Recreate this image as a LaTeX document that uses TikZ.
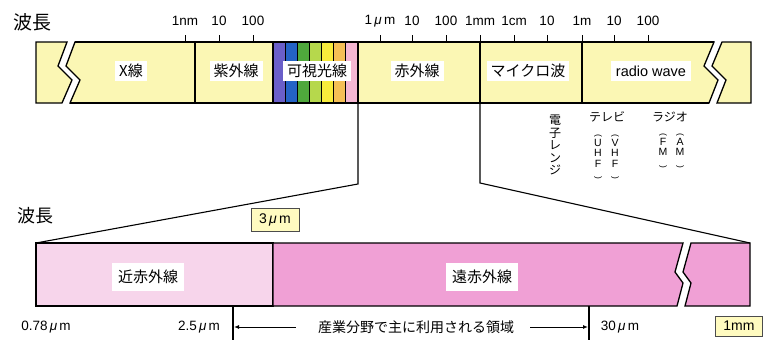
\documentclass[tikz,border=0pt]{standalone}
\usepackage{fontspec}
\setmainfont{Liberation Sans}
\newfontfamily\jp{Noto Sans CJK JP}
\usetikzlibrary{arrows.meta}
\definecolor{barY}{HTML}{FBF7B4}
\definecolor{bV}{HTML}{6A5FC9}
\definecolor{bB}{HTML}{2463C6}
\definecolor{bG}{HTML}{4FA83C}
\definecolor{bLG}{HTML}{B6D84C}
\definecolor{bY}{HTML}{F7EC3C}
\definecolor{bO}{HTML}{F5BF55}
\definecolor{bP}{HTML}{F5B7D2}
\definecolor{nearIR}{HTML}{F7D5EB}
\definecolor{farIR}{HTML}{F0A0D5}
\definecolor{boxY}{HTML}{FFFBC0}
\newcommand{\mum}{{\itshape μ}\,m}
\newcommand{\vpl}{\raisebox{1pt}{\rotatebox{-90}{\scalebox{0.8}{(}}}}
\newcommand{\vpr}{\raisebox{1pt}{\rotatebox{-90}{\scalebox{0.8}{)}}}}
\begin{document}
\begin{tikzpicture}[x=1pt,y=-1pt,
  bar/.style={draw=black,line width=1.3pt,line join=miter},
  divider/.style={draw=black,line width=1.1pt},
  band/.style={draw=black,line width=0.8pt},
  lbl/.style={fill=white,inner xsep=4pt,inner ysep=3.5pt,font=\jp\fontsize{15}{17}\selectfont},
  lbllat/.style={fill=white,inner xsep=5pt,inner ysep=5pt,font=\fontsize{14.5}{16}\selectfont},
  ticklbl/.style={inner sep=0pt,font=\fontsize{13.5}{15}\selectfont},
  tickmark/.style={line width=0.9pt},
  title/.style={inner sep=0pt,font=\jp\fontsize{19}{21}\selectfont},
  vlab/.style={inner sep=0pt,align=center,font=\jp\fontsize{12}{12.5}\selectfont},
  vpar/.style={inner sep=0pt,align=center,font=\fontsize{10.5}{10.5}\selectfont},
  wl/.style={inner sep=0pt,font=\fontsize{13.5}{15}\selectfont},
  ybox/.style={draw=black!70,line width=0.6pt,fill=boxY,inner xsep=8pt,inner ysep=5pt,font=\fontsize{14}{16}\selectfont},
  conn/.style={draw=black,line width=1.1pt},
  arr/.style={draw=black,line width=1pt,-{Latex[length=5pt,width=4pt]}}
]
\useasboundingbox (0,0) rectangle (768,340);

% ---------- top bar ----------
\path[bar,fill=barY] (36,42) -- (67,42) -- (58,66) -- (72,80) -- (62,103) -- (36,103) -- cycle;
\path[bar,fill=barY] (75,42) -- (714,42) -- (704,66) -- (718,80) -- (709,103) -- (70,103) -- (80,80) -- (66,66) -- cycle;
\path[bar,fill=barY] (722,42) -- (751,42) -- (751,103) -- (717,103) -- (726,80) -- (712,66) -- cycle;

% visible bands
\foreach \xa/\xb/\c in {273/285/bV,285/297/bB,297/309/bG,309/321/bLG,321/333/bY,333/345/bO,345/358/bP}
  \path[band,fill=\c] (\xa,42) rectangle (\xb,103);
\path[bar] (75,42) -- (714,42);
\path[bar] (70,103) -- (709,103);

% dividers
\foreach \x in {195,273,358,480,582}
  \draw[divider] (\x,42) -- (\x,103);

% ticks and labels
\foreach \x/\t in {185/1nm,219/10,253/100,380/1\,\mum,412/10,446/100,480/1mm,514/1cm,547/10,582/1m,614/10,648/100}{
  \draw[tickmark] (\x,35) -- (\x,42);
  \node[ticklbl] (tk\x) at (\x,21) {\t};
}

\node[title] (wl1) at (32,22) {波長};

% band labels
\node[lbl] (xray) at (131,71) {X線};
\node[lbl] (uv) at (236,71) {紫外線};
\node[lbl] (vis) at (317,71) {可視光線};
\node[lbl] (ir) at (417,71) {赤外線};
\node[lbl] (mw) at (528,71) {マイクロ波};
\node[lbllat] (rw) at (651,71) {radio wave};

% applications
\node[vlab] (denshi) at (555,145) {電\\子\\レ\\ン\\ジ};
\node[vlab] (tv) at (607,117) {テレビ};
\node[vlab] (radio) at (670,117) {ラジオ};
\node[vpar] (uhf) at (598,157) {\vpl\\U\\H\\F\\\vpr};
\node[vpar] (vhf) at (615,157) {\vpl\\V\\H\\F\\\vpr};
\node[vpar] (fm) at (663,151) {\vpl\\F\\M\\\vpr};
\node[vpar] (am) at (680,151) {\vpl\\A\\M\\\vpr};

% ---------- bottom bar ----------
\path[bar,fill=nearIR] (36,243) rectangle (273,306);
\path[bar,fill=farIR] (273,243) -- (683,243) -- (675,272) -- (683,283) -- (677,306) -- (273,306) -- cycle;
\path[bar,fill=farIR] (691,243) -- (750,243) -- (750,306) -- (685,306) -- (691,283) -- (683,272) -- cycle;

\node[lbl,inner ysep=7pt,inner xsep=6pt] (nir) at (148,277) {近赤外線};
\node[lbl,inner ysep=7pt,inner xsep=6pt] (fir) at (482,277) {遠赤外線};

\node[title,font=\jp\fontsize{18}{20}\selectfont] (wl2) at (35,216) {波長};
\node[ybox] (b3um) at (275,220) {3\,\mum};
\node[ybox] (b1mm) at (739,326) {1mm};

% ---------- connectors ----------
\coordinate (ta) at (358,103);
\coordinate (tb) at (480,103);
\coordinate (ka) at (358,184);
\coordinate (kb) at (480,183);
\coordinate (ba) at (36,243);
\coordinate (bb) at (750,243);
\draw[conn] (ta) -- (ka) -- (ba);
\draw[conn] (tb) -- (kb) -- (bb);

% ---------- bottom scale ----------
\node[wl] (w078) at (46,327) {0.78\,\mum};
\node[wl] (w25) at (199,327) {2.5\,\mum};
\node[wl] (w30) at (620,327) {30\,\mum};
\coordinate (la) at (233,306);
\coordinate (lb) at (233,340);
\coordinate (ra) at (589,306);
\coordinate (rb) at (589,340);
\draw[divider] (la) -- (lb);
\draw[divider] (ra) -- (rb);
\node[inner sep=0pt,font=\jp\fontsize{14}{16}\selectfont] (ind) at (416,327) {産業分野で主に利用される領域};
\draw[arr] ([xshift=-22pt]ind.west) -- ([xshift=1pt]la |- ind);
\draw[arr] ([xshift=16pt]ind.east) -- ([xshift=-1pt]ra |- ind);
\end{tikzpicture}
\end{document}
